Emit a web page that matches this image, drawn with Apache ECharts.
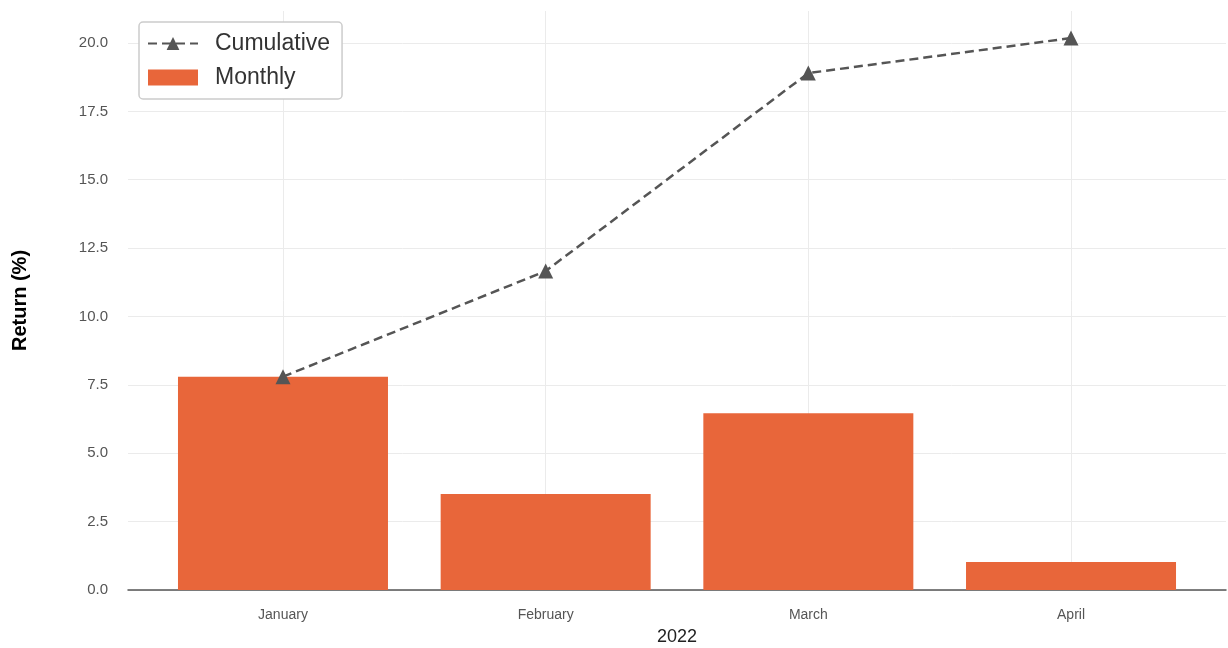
<!DOCTYPE html>
<html lang="en">
<head>
    <meta charset="UTF-8">
    <title>Monthly vs cumulative return</title>
    <script type="text/javascript" src="https://cdn.jsdelivr.net/npm/echarts@6/dist/echarts.min.js"></script>
    <style>
        html, body { margin: 0; padding: 0; background: #fff; }
        #myChart { width: 1228px; height: 648px; }
    </style>
</head>
<body>
<div id="myChart"></div>

<script type="text/javascript">
    // 数据
    var months = ['January', 'February', 'March', 'April'];
    var monthly = [7.8, 3.51, 6.46, 1.02];
    var cumulative = [7.8, 11.66, 18.9, 20.18];
    var yTicks = [0, 2.5, 5, 7.5, 10, 12.5, 15, 17.5, 20];
    var xTicks = [0, 1, 2, 3];

    var myChart = echarts.init(document.getElementById('myChart'));

    var barData = months.map(function (m, i) { return [i, monthly[i]]; });
    var lineData = months.map(function (m, i) { return [i, cumulative[i]]; });

    myChart.setOption({
        animation: false,
        textStyle: { fontFamily: 'Liberation Sans, Arial, sans-serif' },
        grid: { left: 128, right: 2, top: 11, bottom: 58, outerBoundsMode: 'none' },
        legend: {
            data: ['Cumulative', {name: 'Monthly', icon: 'rect'}],
            orient: 'vertical',
            left: 139,
            top: 22,
            padding: [10, 12, 10, 8],
            itemGap: 11,
            itemWidth: 50,
            itemHeight: 16,
            borderColor: '#cccccc',
            borderWidth: 1.5,
            borderRadius: 4,
            backgroundColor: '#ffffff',
            textStyle: { fontSize: 23, color: '#333333', padding: [0, 0, 0, 12] }
        },
        xAxis: {
            type: 'value',
            min: -0.59,
            max: 3.59,
            name: '2022',
            nameLocation: 'middle',
            nameGap: 38,
            nameTextStyle: { fontSize: 18, color: '#222222' },
            axisLine: { show: true, lineStyle: { color: '#555555', width: 1.5 } },
            axisTick: { show: false, customValues: xTicks },
            axisLabel: {
                customValues: xTicks,
                margin: 18,
                fontSize: 14,
                color: '#555555',
                formatter: function (v) { return months[Math.round(v)] || ''; }
            },
            splitLine: { show: true, lineStyle: { color: '#ebebeb', width: 1 } }
        },
        yAxis: {
            type: 'value',
            min: 0,
            max: 21.17,
            name: 'Return (%)',
            nameLocation: 'middle',
            nameGap: 98,
            nameTextStyle: { fontSize: 20, fontWeight: 'bold', color: '#000000' },
            axisLine: { show: false },
            axisTick: { show: false, customValues: yTicks },
            axisLabel: {
                customValues: yTicks,
                margin: 20,
                fontSize: 15,
                color: '#555555',
                formatter: function (v) { return v.toFixed(1); }
            },
            splitLine: { show: true, lineStyle: { color: '#ebebeb', width: 1 } }
        },
        series: [{
            name: 'Cumulative',
            type: 'line',
            data: lineData,
            z: 3,
            symbol: 'triangle',
            symbolSize: 15,
            itemStyle: { color: '#555555' },
            lineStyle: { color: '#555555', width: 2.5, type: [9, 5] }
        }, {
            name: 'Monthly',
            type: 'bar',
            data: barData,
            z: 2,
            barWidth: 210,
            itemStyle: { color: '#e8663a' }
        }]
    });
</script>
</body>
</html>
